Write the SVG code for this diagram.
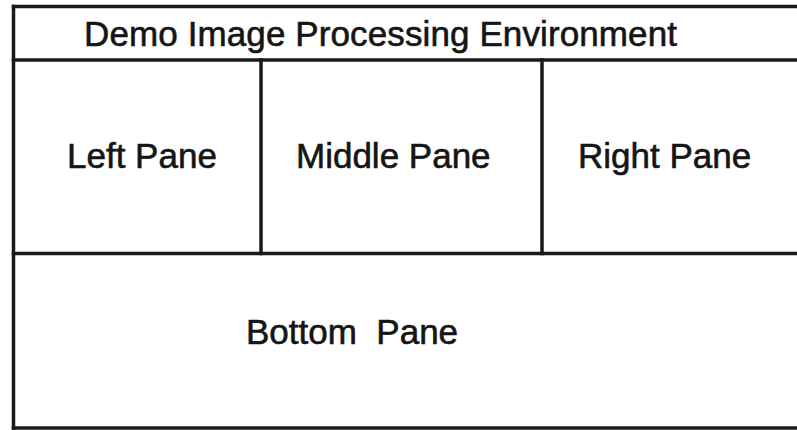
<svg xmlns="http://www.w3.org/2000/svg" width="797" height="430" viewBox="0 0 797 430">
<style>
.ln{stroke:#1a1a1a;stroke-width:3.5;fill:none;stroke-linecap:square}
.t{font-family:"Liberation Sans",Arial,sans-serif;font-size:35px;fill:#151515;stroke:#151515;stroke-width:0.6}
</style>
<rect width="797" height="430" fill="#ffffff"/>
<g id="frame">
<line class="ln" x1="13.5" y1="6.5" x2="797" y2="6.5"/>
<line class="ln" x1="13.5" y1="6.5" x2="13.5" y2="428"/>
<line class="ln" x1="13.5" y1="428" x2="797" y2="428"/>
<line class="ln" x1="13.5" y1="60" x2="797" y2="60"/>
<line class="ln" x1="13.5" y1="253.5" x2="797" y2="253.5"/>
<line class="ln" x1="261" y1="60" x2="261" y2="253.5"/>
<line class="ln" x1="542" y1="60" x2="542" y2="253.5"/>
</g>
<g id="header"><text class="t" x="84" y="46" textLength="593" lengthAdjust="spacing">Demo Image Processing Environment</text></g>
<g id="left-pane"><text class="t" x="67" y="168">Left Pane</text></g>
<g id="middle-pane"><text class="t" x="296" y="168">Middle Pane</text></g>
<g id="right-pane"><text class="t" x="578" y="168">Right Pane</text></g>
<g id="bottom-pane"><text class="t" x="246" y="344" xml:space="preserve">Bottom  Pane</text></g>
</svg>
